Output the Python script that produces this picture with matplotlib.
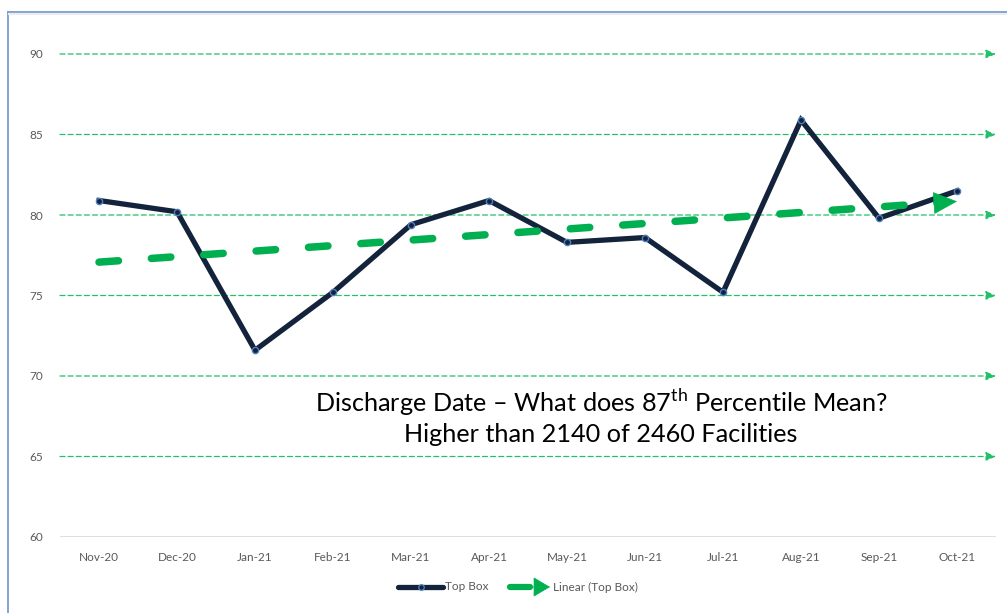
import matplotlib
matplotlib.use("Agg")
import matplotlib.pyplot as plt
import numpy as np
from matplotlib.lines import Line2D
from matplotlib.patches import FancyArrowPatch

months = ["Nov-20", "Dec-20", "Jan-21", "Feb-21", "Mar-21", "Apr-21",
          "May-21", "Jun-21", "Jul-21", "Aug-21", "Sep-21", "Oct-21"]
top_box = [80.9, 80.2, 71.6, 75.2, 79.4, 80.9, 78.3, 78.6, 75.2, 85.9, 79.8, 81.5]
y_ticks = [60, 65, 70, 75, 80, 85, 90]

plt.rcParams['font.family'] = ['Lato', 'DejaVu Sans']
plt.rcParams['mathtext.fontset'] = 'custom'
plt.rcParams['mathtext.rm'] = 'Lato'

W, H = 1007, 613
fig = plt.figure(figsize=(W / 100, H / 100), dpi=100)
ax = fig.add_axes([60 / W, (H - 537) / H, 936 / W, 483 / H])

x = np.arange(len(months))
ax.set_xlim(-0.5, len(months) - 0.5)
ax.set_ylim(60, 90)

green = "#00B050"
grid_green = "#22C068"
navy = "#13233B"
gray_txt = "#595959"

# gridlines with arrowheads
for yv in y_ticks[1:]:
    ax.annotate("", xy=(1.0, yv), xytext=(0.0, yv),
                xycoords=("axes fraction", "data"),
                textcoords=("axes fraction", "data"),
                arrowprops=dict(arrowstyle="-|>,head_length=6,head_width=2.6",
                                mutation_scale=1, color=grid_green, lw=0.9,
                                linestyle=(0, (4, 2.5)), shrinkA=0, shrinkB=0),
                zorder=1)
ax.axhline(60, color="#D9D9D9", lw=1.2, zorder=1)

# main series
ax.plot(x, top_box, color=navy, lw=3.8, solid_joinstyle="miter", zorder=3)
ax.plot(x, top_box, linestyle="none", marker="o", ms=4.5, mfc=navy,
        mec="#4F7FC0", mew=1.0, zorder=4)

# linear trend
coef = np.polyfit(x, top_box, 1)
xt = np.linspace(0, x[-1] - 0.25, 50)
ax.plot(xt, np.polyval(coef, xt), color=green, lw=5.4,
        dashes=(2.6, 4.4), dash_capstyle="round", zorder=5)
x_end = x[-1]
ax.annotate("", xy=(x_end, np.polyval(coef, x_end)),
            xytext=(x_end - 0.3, np.polyval(coef, x_end - 0.3)),
            arrowprops=dict(arrowstyle="-|>,head_length=16,head_width=7.5",
                            mutation_scale=1, color=green, lw=0.5,
                            shrinkA=0, shrinkB=0), zorder=5)

ax.set_xticks(x)
ax.set_xticklabels(months)
ax.set_yticks(y_ticks)
ax.tick_params(length=0, labelsize=8.5, colors=gray_txt)
ax.tick_params(axis="x", pad=11)
ax.tick_params(axis="y", pad=12)
for s in ax.spines.values():
    s.set_visible(False)

# annotation text
fig.text(601 / W, 1 - 402 / H,
         r"Discharge Date – What does 87$^{\rm th}$ Percentile Mean?",
         ha="center", va="center", fontsize=18.2, color="black")
fig.text(601 / W, 1 - 435 / H, "Higher than 2140 of 2460 Facilities",
         ha="center", va="center", fontsize=18.2, color="black")

# chart border
border = "#7A9CD0"
fig.add_artist(Line2D([8 / W, 8 / W], [0, 1 - 12 / H], color=border, lw=1.3))
fig.add_artist(Line2D([8 / W, 1], [1 - 12 / H, 1 - 12 / H], color=border, lw=1.3))
fig.add_artist(Line2D([9 / W, 1], [1 - 14 / H, 1 - 14 / H], color="#EDEDED", lw=1.5))

# legend
ly = 1 - 587 / H
fig.add_artist(Line2D([398 / W, 443 / W], [ly, ly], color=navy, lw=3.8,
                      solid_capstyle="round"))
fig.add_artist(Line2D([420.5 / W], [ly], marker="o", ms=4, mfc=navy,
                      mec="#4F7FC0", mew=0.9))
fig.text(445 / W, ly, "Top Box", ha="left", va="center", fontsize=8.5, color=gray_txt)
fig.add_artist(Line2D([510 / W, 530 / W], [ly, ly], color=green, lw=4.5,
                      solid_capstyle="round"))
fig.add_artist(FancyArrowPatch((528 / W, ly), (550 / W, ly),
                               transform=fig.transFigure,
                               arrowstyle="-|>,head_length=11,head_width=6.5",
                               mutation_scale=1, color=green, lw=0.5,
                               shrinkA=0, shrinkB=0))
fig.text(553 / W, ly, "Linear (Top Box)", ha="left", va="center", fontsize=8.5,
         color=gray_txt)

fig.savefig("out.png", dpi=100)
